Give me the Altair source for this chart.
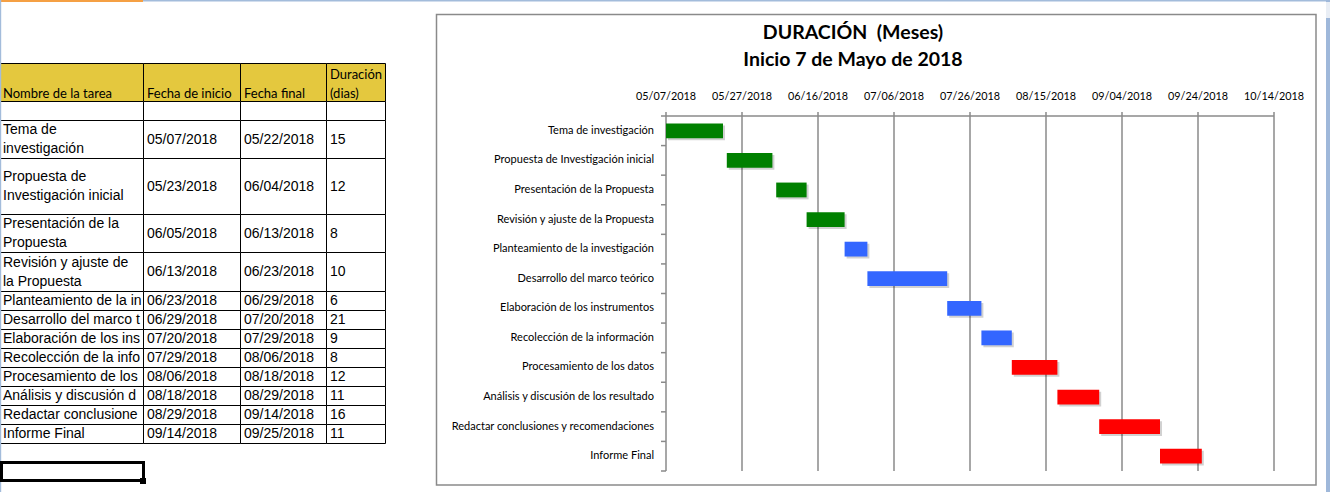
import altair as alt
import pandas as pd

# ---------------- data ----------------
tareas = [
    "Tema de investigación",
    "Propuesta de Investigación inicial",
    "Presentación de la Propuesta",
    "Revisión y ajuste de la Propuesta",
    "Planteamiento de la investigación",
    "Desarrollo del marco teórico",
    "Elaboración de los instrumentos",
    "Recolección de la información",
    "Procesamiento de los datos",
    "Análisis y discusión de los resultado",
    "Redactar conclusiones y recomendaciones",
    "Informe Final",
]
tareas_tabla = [
    "Tema de\ninvestigación",
    "Propuesta de\nInvestigación inicial",
    "Presentación de la\nPropuesta",
    "Revisión y ajuste de\nla Propuesta",
    "Planteamiento de la investigación",
    "Desarrollo del marco teórico",
    "Elaboración de los instrumentos",
    "Recolección de la información",
    "Procesamiento de los datos",
    "Análisis y discusión de los resultados",
    "Redactar conclusiones y recomendaciones",
    "Informe Final",
]
fechas_inicio = ["05/07/2018", "05/23/2018", "06/05/2018", "06/13/2018", "06/23/2018", "06/29/2018",
                 "07/20/2018", "07/29/2018", "08/06/2018", "08/18/2018", "08/29/2018", "09/14/2018"]
fechas_final = ["05/22/2018", "06/04/2018", "06/13/2018", "06/23/2018", "06/29/2018", "07/20/2018",
                "07/29/2018", "08/06/2018", "08/18/2018", "08/29/2018", "09/14/2018", "09/25/2018"]
duracion = [15, 12, 8, 10, 6, 21, 9, 8, 12, 11, 16, 11]
fase = ["Fase 1"] * 4 + ["Fase 2"] * 4 + ["Fase 3"] * 4
encabezados = ["Nombre de la tarea", "Fecha de inicio", "Fecha final", "Duración\n(dias)"]
ticks = ["05/07/2018", "05/27/2018", "06/16/2018", "07/06/2018", "07/26/2018",
         "08/15/2018", "09/04/2018", "09/24/2018", "10/14/2018"]
titulo = ["DURACIÓN\u00a0\u00a0(Meses)", "Inicio 7 de Mayo de 2018"]

# ---------------- layout / style ----------------
W, H = 1330, 492
COL_EDGES = [0, 143, 240, 326, 385]
ROW_TOP = 63
ROW_H = [38, 19, 38, 56, 38, 39] + [19] * 8
LINE_H = 19
PLOT_X = [666, 1274]
PLOT_Y = [116, 471]
GRID = "#8A8A8A"
YELLOW = "#E4C83E"
BAR_COLORS = ["#008000", "#3366FF", "#FF0000"]
CHART_FONT = "Lato"
TABLE_FONT = "Liberation Sans"


def iso(s):
    m, d, y = s.split("/")
    return f"{y}-{m}-{d}"


def dt(s):
    m, d, y = s.split("/")
    return alt.DateTime(year=int(y), month=int(m), date=int(d), utc=True)


# ---------------- table (pixel layout) ----------------
rows = [encabezados, ["", "", "", ""]] + [
    [tareas_tabla[i], fechas_inicio[i], fechas_final[i], str(duracion[i])] for i in range(len(tareas))
]
cells, lines = [], []
y = ROW_TOP
for r, (vals, h) in enumerate(zip(rows, ROW_H)):
    for c, v in enumerate(vals):
        cells.append({
            "x0": COL_EDGES[c] + 0.5, "x1": COL_EDGES[c + 1] + 0.5,
            "y0": y + 0.5, "y1": y + h + 0.5,
            "fondo": YELLOW if r == 0 else "white",
        })
        parts = v.split("\n") if v else []
        k = len(parts)
        for j, p in enumerate(parts):
            if r == 0:
                ty = y + h - 7 - (k - 1 - j) * LINE_H
            else:
                ty = y + h / 2 + 0.5 + (j - (k - 1) / 2) * LINE_H
            lines.append({"fila": r, "col": c, "tx": COL_EDGES[c] + (3 if c == 0 else 4), "ty": ty, "texto": p})
    y += h
cells = pd.DataFrame(cells)
lines = pd.DataFrame(lines)

XP = alt.Scale(domain=[0, W], range=[0, W], nice=False, zero=False)
YP = alt.Scale(domain=[0, H], range=[0, H], nice=False, zero=False)

t_rect = alt.Chart(cells).mark_rect(stroke="black", strokeWidth=1).encode(
    x=alt.X("x0:Q", scale=XP, axis=None), x2="x1:Q",
    y=alt.Y("y0:Q", scale=YP, axis=None), y2="y1:Q",
    fill=alt.Fill("fondo:N", scale=None),
)
base_l = alt.Chart(lines)
enc_l = dict(x=alt.X("tx:Q", scale=XP, axis=None), y=alt.Y("ty:Q", scale=YP, axis=None), text="texto:N")
t_head = base_l.transform_filter("datum.fila == 0").mark_text(
    align="left", baseline="middle", font=CHART_FONT, fontSize=13, color="black").encode(**enc_l)
t_name = base_l.transform_filter("datum.fila > 1 && datum.col == 0").mark_text(
    align="left", baseline="middle", font=TABLE_FONT, fontSize=14, limit=144, ellipsis=" ", color="black"
).encode(**enc_l)
t_vals = base_l.transform_filter("datum.fila > 1 && datum.col > 0").mark_text(
    align="left", baseline="middle", font=TABLE_FONT, fontSize=14, color="black").encode(**enc_l)

# decorations: chart frame, title, window edges, selected cell
frame = pd.DataFrame([{"x0": 436.5, "x1": 1316, "y0": 14.5, "y1": 485}])
t_frame = alt.Chart(frame).mark_rect(fill="white", stroke=GRID, strokeWidth=1.5).encode(
    x=alt.X("x0:Q", scale=XP, axis=None), x2="x1:Q", y=alt.Y("y0:Q", scale=YP, axis=None), y2="y1:Q")
tit = pd.DataFrame({"t": titulo, "x": [853, 853], "y": [33, 60]})
t_title = alt.Chart(tit).mark_text(font=CHART_FONT, fontSize=19.5, fontWeight="bold", baseline="middle",
                                   align="center", color="black").encode(
    x=alt.X("x:Q", scale=XP, axis=None), y=alt.Y("y:Q", scale=YP, axis=None), text="t:N")
edges = pd.DataFrame([
    {"x0": 0, "x1": 143, "y0": 0, "y1": 2, "c": "#F5A044"},
    {"x0": 143, "x1": 1326, "y0": 0, "y1": 1.5, "c": "#A3BCDB"},
    {"x0": 0, "x1": 1.2, "y0": 0, "y1": H, "c": "#A3BCDB"},
    {"x0": 1326, "x1": W, "y0": 0, "y1": H, "c": "#9FB8DA"},
    {"x0": 1326, "x1": W, "y0": 2, "y1": 18, "c": "#E9EEF5"},
    {"x0": 0, "x1": 1.5, "y0": 462, "y1": 481, "c": "#F5A044"},
    {"x0": 140, "x1": 146, "y0": 478, "y1": 484, "c": "black"},
])
t_edges = alt.Chart(edges).mark_rect().encode(
    x=alt.X("x0:Q", scale=XP, axis=None), x2="x1:Q", y=alt.Y("y0:Q", scale=YP, axis=None), y2="y1:Q",
    fill=alt.Fill("c:N", scale=None))
sel = pd.DataFrame([{"x0": 1.5, "x1": 143.5, "y0": 462.5, "y1": 480.5}])
t_sel = alt.Chart(sel).mark_rect(fill="white", fillOpacity=0, stroke="black", strokeWidth=3).encode(
    x=alt.X("x0:Q", scale=XP, axis=None), x2="x1:Q", y=alt.Y("y0:Q", scale=YP, axis=None), y2="y1:Q")

tabla = alt.layer(t_frame, t_rect, t_head, t_name, t_vals, t_title, t_edges, t_sel)

# ---------------- gantt ----------------
n = len(tareas)
gd = pd.DataFrame({
    "tarea": tareas,
    "inicio": [iso(s) for s in fechas_inicio],
    "fin": [iso(s) for s in fechas_final],
    "fase": fase,
    "fila": list(range(n)),
    "eje": iso(ticks[0]),
})
td = pd.DataFrame({"fecha": [iso(s) for s in ticks], "etiqueta": ticks, "y0": 0, "y1": n})
sep = pd.DataFrame({"fila": list(range(n + 1)), "eje": iso(ticks[0])})
axis_line = pd.DataFrame({"a": [iso(ticks[0])], "b": [iso(ticks[-1])], "y0": [0]})

XG = alt.Scale(type="utc", domain=[dt(ticks[0]), dt(ticks[-1])], range=PLOT_X, nice=False)
YG = alt.Scale(domain=[0, n], range=PLOT_Y, nice=False, zero=False)

g_grid = alt.Chart(td).mark_rule(color=GRID, strokeWidth=1.5, yOffset=-4).encode(
    x=alt.X("fecha:T", scale=XG, axis=None), y=alt.Y("y0:Q", scale=YG, axis=None), y2="y1:Q")
g_top = alt.Chart(axis_line).mark_rule(color=GRID, strokeWidth=1.5).encode(
    x=alt.X("a:T", scale=XG, axis=None), x2="b:T", y=alt.Y("y0:Q", scale=YG, axis=None))
g_sep = alt.Chart(sep).mark_rule(color=GRID, strokeWidth=1.5, xOffset=-5).encode(
    x=alt.X("eje:T", scale=XG, axis=None), x2="eje:T", y=alt.Y("fila:Q", scale=YG, axis=None))
g_ticklab = alt.Chart(td).mark_text(font=CHART_FONT, fontSize=10.8, baseline="middle", dy=-19, color="black").encode(
    x=alt.X("fecha:T", scale=XG, axis=None), y=alt.Y("y0:Q", scale=YG, axis=None), text="etiqueta:N")

bars_base = alt.Chart(gd).transform_calculate(ya="datum.fila + 0.25", yb="datum.fila + 0.75")
g_shadow = bars_base.mark_rect(color="black", opacity=0.18, xOffset=2, x2Offset=2, yOffset=2, y2Offset=2).encode(
    x=alt.X("inicio:T", scale=XG, axis=None), x2="fin:T",
    y=alt.Y("ya:Q", scale=YG, axis=None), y2="yb:Q")
g_bars = bars_base.mark_rect().encode(
    x=alt.X("inicio:T", scale=XG, axis=None), x2="fin:T",
    y=alt.Y("ya:Q", scale=YG, axis=None), y2="yb:Q",
    color=alt.Color("fase:N", scale=alt.Scale(domain=["Fase 1", "Fase 2", "Fase 3"], range=BAR_COLORS), legend=None),
)
g_lab = alt.Chart(gd).transform_calculate(ym="datum.fila + 0.5").mark_text(
    font=CHART_FONT, fontSize=11, align="right", baseline="middle", dx=-12, color="black").encode(
    x=alt.X("eje:T", scale=XG, axis=None), y=alt.Y("ym:Q", scale=YG, axis=None), text="tarea:N")

gantt = alt.layer(g_grid, g_top, g_sep, g_ticklab, g_shadow, g_bars, g_lab)

chart = alt.layer(tabla, gantt).resolve_scale(x="independent", y="independent").properties(
    width=W, height=H, padding=0, autosize=alt.AutoSizeParams(type="none"), background="white"
).configure_view(stroke=None)

chart.save("out.html", embed_options={"renderer": "svg", "actions": False})
